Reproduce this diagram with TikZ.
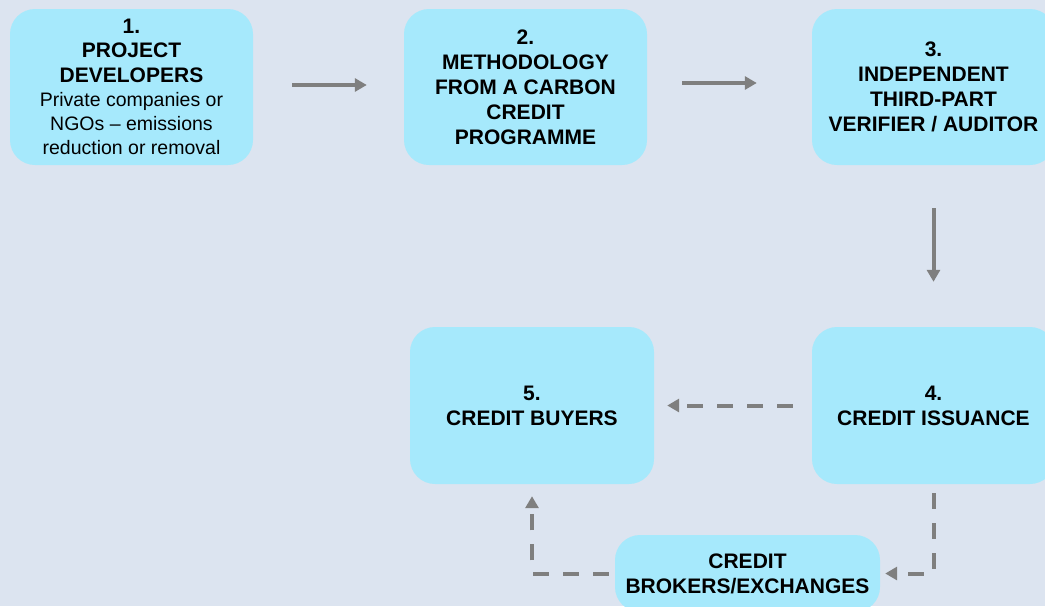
\documentclass[tikz,border=0pt]{standalone}
\usepackage{fontspec}
\setmainfont{Liberation Sans}
\usetikzlibrary{arrows.meta}
\definecolor{bgc}{HTML}{DCE4F0}
\definecolor{boxc}{HTML}{A6E9FC}
\definecolor{arrc}{HTML}{7F7F7F}
\tikzset{
  stagebox/.style={draw=none, fill=boxc, rounded corners=25pt, align=center,
    text=black, inner sep=0pt, font=\fontsize{21}{25}\selectfont\bfseries},
  flowarrow/.style={draw=arrc, line width=4pt, -{Triangle[length=12pt,width=13pt]}},
  dasharrow/.style={flowarrow, dash pattern=on 16pt off 14pt}
}
\newcommand{\regline}[1]{{\fontsize{19.5}{24.2}\selectfont\mdseries #1}}
\begin{document}
\begin{tikzpicture}[x=1pt,y=-1pt]
\fill[bgc] (0,0) rectangle (1045,606);
\useasboundingbox (0,0) rectangle (1045,606);
\clip (0,0) rectangle (1045,606);

\node[stagebox, minimum width=243pt, minimum height=156pt,
  font=\fontsize{21}{24.2}\selectfont\bfseries] (b1) at (131.5,87)
  {1.\\PROJECT\\DEVELOPERS\\\regline{Private companies or}\\\regline{NGOs -- emissions}\\\regline{reduction or removal}};
\node[stagebox, minimum width=243pt, minimum height=156pt] (b2) at (525.5,87)
  {2.\\METHODOLOGY\\FROM A CARBON\\CREDIT\\PROGRAMME};
\node[stagebox, minimum width=243pt, minimum height=156pt] (b3) at (933.5,87)
  {3.\\INDEPENDENT\\THIRD-PART\\VERIFIER / AUDITOR};
\node[stagebox, minimum width=243pt, minimum height=157pt] (b4) at (933.5,405.5)
  {4.\\CREDIT ISSUANCE};
\node[stagebox, minimum width=244pt, minimum height=157pt] (b5) at (532,405.5)
  {5.\\CREDIT BUYERS};
\node[stagebox, minimum width=265pt, minimum height=77pt] (b6) at (747.5,573.5)
  {CREDIT\\BROKERS/EXCHANGES};

\draw[flowarrow, shorten <=39pt, shorten >=37pt] ([yshift=2pt]b1.east) -- ([yshift=2pt]b2.west);
\draw[flowarrow, shorten <=35pt, shorten >=55pt] ([yshift=4pt]b2.east) -- ([yshift=4pt]b3.west);
\draw[flowarrow, shorten <=43pt, shorten >=45pt] (b3.south) -- (b4.north);
\draw[dasharrow, shorten <=19pt, shorten >=13pt] (b4.west) -- (b5.east);
\draw[dasharrow, shorten <=9pt, shorten >=5pt] (b4.south) |- (b6.east);
\draw[dasharrow, shorten <=6pt, shorten >=12pt] (b6.west) -| (b5.south);
\end{tikzpicture}
\end{document}
